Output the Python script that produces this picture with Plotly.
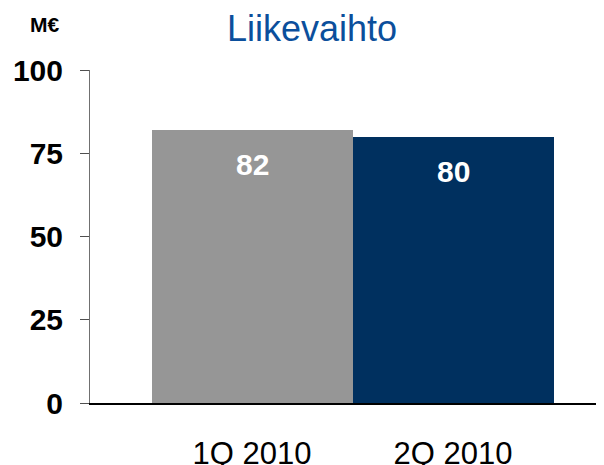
import plotly.graph_objects as go

categories = ["1Q 2010", "2Q 2010"]
values = [82, 80]
bar_colors = ["#969696", "#00305f"]
y_ticks = [0, 25, 50, 75, 100]
title_text = "Liikevaihto"
unit_text = "M€"

FONT = "Liberation Sans, Arial"
W, H = 596, 457          # page body has an 8px default margin
L, T, B = 82, 62, 62
PW, PH = W - L, H - T - B

fig = go.Figure()
fig.add_trace(go.Bar(
    x=categories, y=values, marker=dict(color=bar_colors, line=dict(width=0)),
    width=1.0, showlegend=False, hoverinfo="skip",
))
for c, v in zip(categories, values):
    fig.add_annotation(x=c, y=v, xref="x", yref="y", text="<b>%d</b>" % v,
                       showarrow=False, yanchor="middle", yshift=-35,
                       font=dict(family=FONT, size=30, color="white"))

fig.add_annotation(
    x=(36 - L) / PW, y=1 + (T - 16) / PH, xref="paper", yref="paper",
    text="<b>%s</b>" % unit_text, showarrow=False, xanchor="center", yanchor="middle",
    font=dict(family=FONT, size=21, color="black"))

fig.update_layout(
    width=W, height=H,
    margin=dict(l=L, r=0, t=T, b=B, autoexpand=False),
    paper_bgcolor="white", plot_bgcolor="white",
    bargap=0,
    title=dict(text=title_text, x=304 / W, xanchor="center", y=1 - 20 / H, yanchor="middle",
               font=dict(family=FONT, size=36, color="#0b4f9c")),
    xaxis=dict(range=[-0.806, 1.751], showline=True, linecolor="black", linewidth=2,
               ticks="", showgrid=False, zeroline=False, ticklabelstandoff=22, automargin=False,
               tickfont=dict(family=FONT, size=31, color="black")),
    yaxis=dict(range=[0, 100], tickvals=y_ticks, showline=True, linecolor="#707070", linewidth=1,
               ticks="outside", ticklen=9, tickcolor="#505050", tickwidth=1,
               showgrid=False, zeroline=False, ticklabelstandoff=11, automargin=False,
               tickfont=dict(family=FONT, size=30, color="black", weight="bold")),
)

fig.write_html("out.html")
